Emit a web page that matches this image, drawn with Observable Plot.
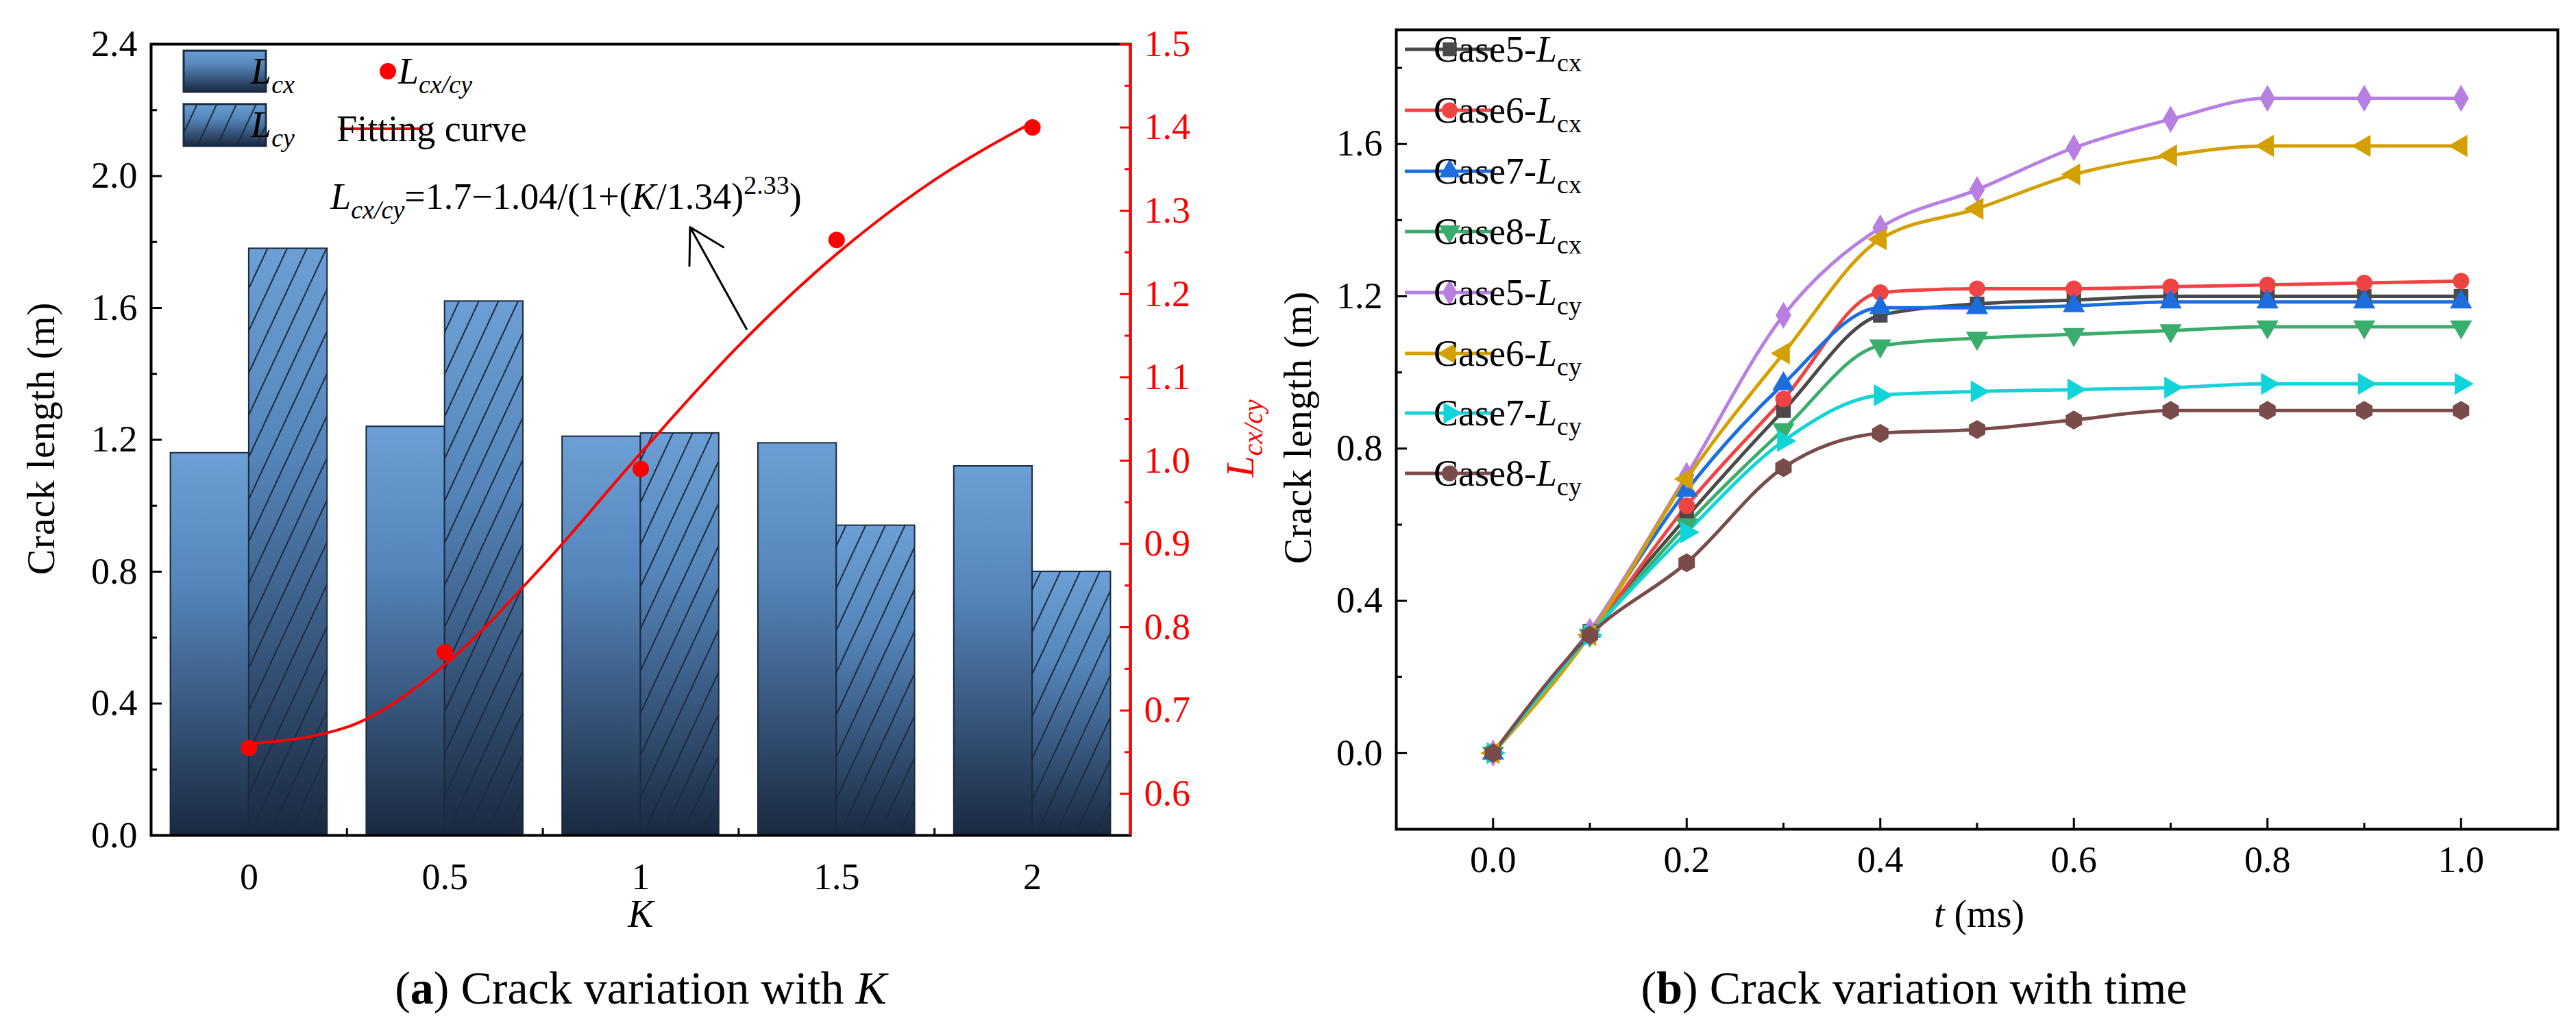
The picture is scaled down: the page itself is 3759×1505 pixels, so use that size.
<!DOCTYPE html>
<html><head><meta charset="utf-8">
<script src="https://cdn.jsdelivr.net/npm/d3@7"></script>
<script src="https://cdn.jsdelivr.net/npm/@observablehq/plot@0.6"></script>
<style>
body{margin:0;background:#fff;}
#wrap{position:relative;width:3759px;height:1505px;font-family:"Liberation Serif",serif;overflow:hidden;}
.abs{position:absolute;white-space:nowrap;}
svg text{font-family:"Liberation Serif",serif;}
</style></head><body><div id="wrap"></div>
<script>
// ---- data: panel (a)
const kVals = [0, 0.5, 1, 1.5, 2];
const kLabels = ["0", "0.5", "1", "1.5", "2"];
const Lcx = [1.16, 1.24, 1.21, 1.19, 1.12];
const Lcy = [1.78, 1.62, 1.22, 0.94, 0.80];
const ratio = [0.655, 0.77, 0.99, 1.265, 1.40];
const fitK = [0, 0.25, 0.5, 0.75, 1, 1.25, 1.5, 1.75, 2];
const fitV = [0.66, 0.68, 0.755, 0.874, 1.009, 1.138, 1.248, 1.337, 1.406];
const leftTicks = [0, 0.4, 0.8, 1.2, 1.6, 2.0, 2.4];
const rightTicks = [0.6, 0.7, 0.8, 0.9, 1.0, 1.1, 1.2, 1.3, 1.4, 1.5];
const arrowPts = [{x1: 1.27, y1: 1.536, x2: 1.126, y2: 1.845}];
// ---- data: panel (b)
const tVals = [0, 0.1, 0.2, 0.3, 0.4, 0.5, 0.6, 0.7, 0.8, 0.9, 1.0];
const seriesNames = ["Case5-Lcx","Case6-Lcx","Case7-Lcx","Case8-Lcx","Case5-Lcy","Case6-Lcy","Case7-Lcy","Case8-Lcy"];
const seriesVals = [
  [0, 0.32, 0.62, 0.90, 1.15, 1.18, 1.19, 1.20, 1.20, 1.20, 1.20],
  [0, 0.31, 0.65, 0.93, 1.21, 1.22, 1.22, 1.225, 1.23, 1.235, 1.24],
  [0, 0.32, 0.69, 0.97, 1.17, 1.17, 1.175, 1.185, 1.185, 1.185, 1.185],
  [0, 0.31, 0.60, 0.85, 1.07, 1.09, 1.10, 1.11, 1.12, 1.12, 1.12],
  [0, 0.32, 0.73, 1.15, 1.38, 1.48, 1.59, 1.665, 1.72, 1.72, 1.72],
  [0, 0.31, 0.72, 1.05, 1.35, 1.43, 1.52, 1.57, 1.595, 1.595, 1.595],
  [0, 0.31, 0.58, 0.82, 0.94, 0.95, 0.955, 0.96, 0.97, 0.97, 0.97],
  [0, 0.31, 0.50, 0.75, 0.84, 0.85, 0.875, 0.90, 0.90, 0.90, 0.90]
];
const seriesColors = ["#4a4a4a","#f04444","#1c6ee0","#3aac6c","#b77fe2","#d4a000","#10d4d8","#7a4b4b"];
const seriesSymbols = ["square","circle","triangle","triangle","diamond","triangle","triangle","hexagon"];
const seriesRot = [0, 0, 0, 180, 0, -90, 90, 0];
const rightYTicks = [0, 0.4, 0.8, 1.2, 1.6];
const tTicks = [0, 0.2, 0.4, 0.6, 0.8, 1.0];

const wrap = document.getElementById("wrap");
const W1 = 1800, H = 1380, mL1 = 220, mR1 = 151, mT1 = 64, mB1 = 161;
const bars = kVals.map((k, i) => ({k, cx: Lcx[i], cy: Lcy[i]}));
const toLeft = v => (v - 0.55) / 0.95 * 2.4;

const left = Plot.plot({
  width: W1, height: H, marginLeft: mL1, marginRight: mR1, marginTop: mT1, marginBottom: mB1,
  style: {fontFamily: "Liberation Serif", fontSize: "54px", background: "transparent"},
  x: {domain: [-0.25, 2.25]}, y: {domain: [0, 2.4]},
  marks: [
    Plot.rect(bars, {x1: d => d.k - 0.2, x2: d => d.k, y1: 0, y2: "cx", fill: "url(#barGrad)", stroke: "#1a2a40", strokeWidth: 2}),
    Plot.rect(bars, {x1: d => d.k, x2: d => d.k + 0.2, y1: 0, y2: "cy", fill: "url(#barGrad)", stroke: "#1a2a40", strokeWidth: 2}),
    Plot.rect(bars, {x1: d => d.k, x2: d => d.k + 0.2, y1: 0, y2: "cy", fill: "url(#hatch)"}),
    Plot.axisY({ticks: leftTicks, tickFormat: d => d.toFixed(1), tickSize: -16, tickPadding: 36, fontSize: 54, strokeWidth: 3, label: null}),
    Plot.axisY({ticks: d3.range(0.2, 2.4, 0.4), tickFormat: () => "", tickSize: -9, strokeWidth: 3, label: null}),
    Plot.axisX({ticks: kVals, tickFormat: (d, i) => kLabels[i], tickSize: 0, tickPadding: 40, fontSize: 54, label: null}),
    Plot.axisX({ticks: [0.25, 0.75, 1.25, 1.75], tickFormat: () => "", tickSize: -10, strokeWidth: 3, label: null}),
    Plot.frame({stroke: "#000", strokeWidth: 4}),
    Plot.arrow(arrowPts, {x1: "x1", y1: "y1", x2: "x2", y2: "y2", stroke: "#000", strokeWidth: 3, headLength: 30})
  ]
});
left.style.position = "absolute"; left.style.left = "0px"; left.style.top = "0px";
wrap.appendChild(left);

const fitData = fitK.map((k, i) => ({k, v: toLeft(fitV[i])}));
const ratioData = kVals.map((k, i) => ({k, v: ratio[i]}));
const over = Plot.plot({
  width: W1, height: H, marginLeft: mL1, marginRight: mR1, marginTop: mT1, marginBottom: mB1,
  style: {fontFamily: "Liberation Serif", fontSize: "54px", background: "transparent", color: "#f00"},
  x: {domain: [-0.25, 2.25], axis: null}, y: {domain: [0.55, 1.5], axis: null},
  marks: [
    Plot.line(fitK.map((k, i) => ({k, v: fitV[i]})), {x: "k", y: "v", stroke: "#f00", strokeWidth: 4, curve: "monotone-x"}),
    Plot.dot(ratioData, {x: "k", y: "v", fill: "#f00", r: 12}),
    Plot.ruleX([2.25], {stroke: "#f00", strokeWidth: 4}),
    Plot.axisY({anchor: "right", ticks: rightTicks, tickFormat: d => d.toFixed(1), tickSize: -16, tickPadding: 36, fontSize: 54, stroke: "#f00", fill: "#f00", strokeWidth: 3, label: null}),
    Plot.axisY({anchor: "right", ticks: d3.range(0.65, 1.5, 0.1), tickFormat: () => "", tickSize: -9, stroke: "#f00", strokeWidth: 3, label: null})
  ]
});
over.style.position = "absolute"; over.style.left = "0px"; over.style.top = "0px";
wrap.appendChild(over);

// defs
const defs = d3.select(left).insert("defs", ":first-child");
const g = defs.append("linearGradient").attr("id", "barGrad").attr("x1", 0).attr("y1", 0).attr("x2", 0).attr("y2", 1);
g.append("stop").attr("offset", "0").attr("stop-color", "#6c9fd5");
g.append("stop").attr("offset", "0.35").attr("stop-color", "#5585ba");
g.append("stop").attr("offset", "1").attr("stop-color", "#1a2940");
const p = defs.append("pattern").attr("id", "hatch").attr("patternUnits", "userSpaceOnUse").attr("width", 26).attr("height", 26).attr("patternTransform", "rotate(25)");
p.append("line").attr("x1", 13).attr("y1", 0).attr("x2", 13).attr("y2", 26).attr("stroke", "#1a2a40").attr("stroke-width", 2);

// equation & legend (a)
const xs = left.scale("x"), ys = left.scale("y");
const svgL = d3.select(left);
const eq = svgL.append("text").attr("x", xs.apply(0.81)).attr("y", ys.apply(1.9)).attr("text-anchor", "middle").attr("font-size", 54).attr("fill", "#000");
eq.append("tspan").attr("font-style", "italic").text("L");
eq.append("tspan").attr("font-style", "italic").attr("font-size", 38).attr("dy", 14).text("cx/cy");
eq.append("tspan").attr("dy", -14).text("=1.7−1.04/(1+(");
eq.append("tspan").attr("font-style", "italic").text("K");
eq.append("tspan").text("/1.34)");
eq.append("tspan").attr("font-size", 38).attr("dy", -22).text("2.33");
eq.append("tspan").attr("dy", 22).text(")");

function legSub(sel, x, y, main, sub, italicSub) {
  const t = sel.append("text").attr("x", x).attr("y", y).attr("font-size", 54).attr("fill", "#000");
  t.append("tspan").attr("font-style", "italic").text(main);
  t.append("tspan").attr("font-size", 38).attr("dy", 14).attr("font-style", italicSub ? "italic" : "normal").text(sub);
  return t;
}
svgL.append("rect").attr("x", 268).attr("y", 74).attr("width", 120).attr("height", 60).attr("fill", "url(#barGrad)").attr("stroke", "#1a2a40").attr("stroke-width", 3);
svgL.append("rect").attr("x", 268).attr("y", 152).attr("width", 120).attr("height", 61).attr("fill", "url(#barGrad)").attr("stroke", "#1a2a40").attr("stroke-width", 3);
svgL.append("rect").attr("x", 268).attr("y", 152).attr("width", 120).attr("height", 61).attr("fill", "url(#hatch)");
legSub(svgL, 398, 122, "L", "cx", true);
legSub(svgL, 398, 200, "L", "cy", true);
svgL.append("circle").attr("cx", 566).attr("cy", 104).attr("r", 12).attr("fill", "#f00");
legSub(svgL, 635, 122, "L", "cx/cy", true);
svgL.append("line").attr("x1", 496).attr("x2", 618).attr("y1", 188).attr("y2", 188).attr("stroke", "#f00").attr("stroke-width", 4);
svgL.append("text").attr("x", 630).attr("y", 206).attr("font-size", 54).text("Fitting curve");

// panel (b)
const W2 = 1899, mL2 = 177, mR2 = 27, mT2 = 43, mB2 = 170;
const long = [];
seriesNames.forEach((s, si) => tVals.forEach((t, i) => long.push({s, si, t, v: seriesVals[si][i]})));
const right = Plot.plot({
  width: W2, height: H, marginLeft: mL2, marginRight: mR2, marginTop: mT2, marginBottom: mB2,
  style: {fontFamily: "Liberation Serif", fontSize: "54px", background: "transparent"},
  x: {domain: [-0.1, 1.1]}, y: {domain: [-0.2, 1.9]},
  color: {domain: seriesNames, range: seriesColors},
  symbol: {domain: seriesNames, range: seriesSymbols},
  marks: [
    Plot.line(long, {x: "t", y: "v", z: "s", stroke: "s", strokeWidth: 5, curve: "monotone-x"}),
    Plot.dot(long, {x: "t", y: "v", fill: "s", symbol: "s", rotate: d => seriesRot[d.si], r: 12}),
    Plot.axisY({ticks: rightYTicks, tickFormat: d => d.toFixed(1), tickSize: -16, tickPadding: 36, fontSize: 54, strokeWidth: 3, label: null}),
    Plot.axisY({ticks: d3.range(-0.2, 1.9, 0.4), tickFormat: () => "", tickSize: -9, strokeWidth: 3, label: null}),
    Plot.axisX({ticks: tTicks, tickFormat: d => d.toFixed(1), tickSize: -16, tickPadding: 40, fontSize: 54, strokeWidth: 3, label: null}),
    Plot.axisX({ticks: d3.range(-0.1, 1.1, 0.2), tickFormat: () => "", tickSize: -9, strokeWidth: 3, label: null}),
    Plot.frame({stroke: "#000", strokeWidth: 4})
  ]
});
right.style.position = "absolute"; right.style.left = "1860px"; right.style.top = "0px";
wrap.appendChild(right);
const svgR = d3.select(right);
const legY = [72, 161, 250, 338, 427, 516, 603, 691];
seriesNames.forEach((s, i) => {
  const x0 = 2050 - 1860, x1 = 2181 - 1860, y = legY[i];
  svgR.append("line").attr("x1", x0).attr("x2", x1).attr("y1", y).attr("y2", y).attr("stroke", seriesColors[i]).attr("stroke-width", 5);
  const symMap = {square: d3.symbolSquare, circle: d3.symbolCircle, triangle: d3.symbolTriangle, diamond: d3.symbolDiamond, hexagon: d3.symbolCircle};
  svgR.append("path").attr("d", d3.symbol(symMap[seriesSymbols[i]], 420)()).attr("transform", `translate(${(x0 + x1) / 2},${y}) rotate(${seriesRot[i]})`).attr("fill", seriesColors[i]);
  const t = svgR.append("text").attr("x", 2200 - 1860).attr("y", y + 18).attr("font-size", 54);
  t.append("tspan").text(s.slice(0, 6));
  t.append("tspan").attr("font-style", "italic").text("L");
  t.append("tspan").attr("font-size", 38).attr("dy", 14).text(s.slice(7));
});

// HTML labels
function addDiv(html, css) { const d = document.createElement("div"); d.className = "abs"; d.innerHTML = html; Object.assign(d.style, css); wrap.appendChild(d); return d; }
addDiv("Crack length (m)", {left: "60px", top: "640px", fontSize: "56px", transform: "translate(-50%,-50%) rotate(-90deg)", letterSpacing: "1px"});
addDiv("Crack length (m)", {left: "1894px", top: "624px", fontSize: "56px", transform: "translate(-50%,-50%) rotate(-90deg)", letterSpacing: "1px"});
addDiv('<i>L</i><sub style="font-size:40px"><i>cx/cy</i></sub>', {left: "1815px", top: "640px", fontSize: "56px", color: "#f00", transform: "translate(-50%,-50%) rotate(-90deg)"});
addDiv("<i>K</i>", {left: "935px", top: "1334px", fontSize: "56px", transform: "translate(-50%,-50%)"});
addDiv("<i>t</i> (ms)", {left: "2888px", top: "1334px", fontSize: "56px", transform: "translate(-50%,-50%)"});
addDiv("(<b>a</b>) Crack variation with <i>K</i>", {left: "935px", top: "1442px", fontSize: "68px", transform: "translate(-50%,-50%)"});
addDiv("(<b>b</b>) Crack variation with time", {left: "2793px", top: "1442px", fontSize: "68px", transform: "translate(-50%,-50%)"});
</script></body></html>
